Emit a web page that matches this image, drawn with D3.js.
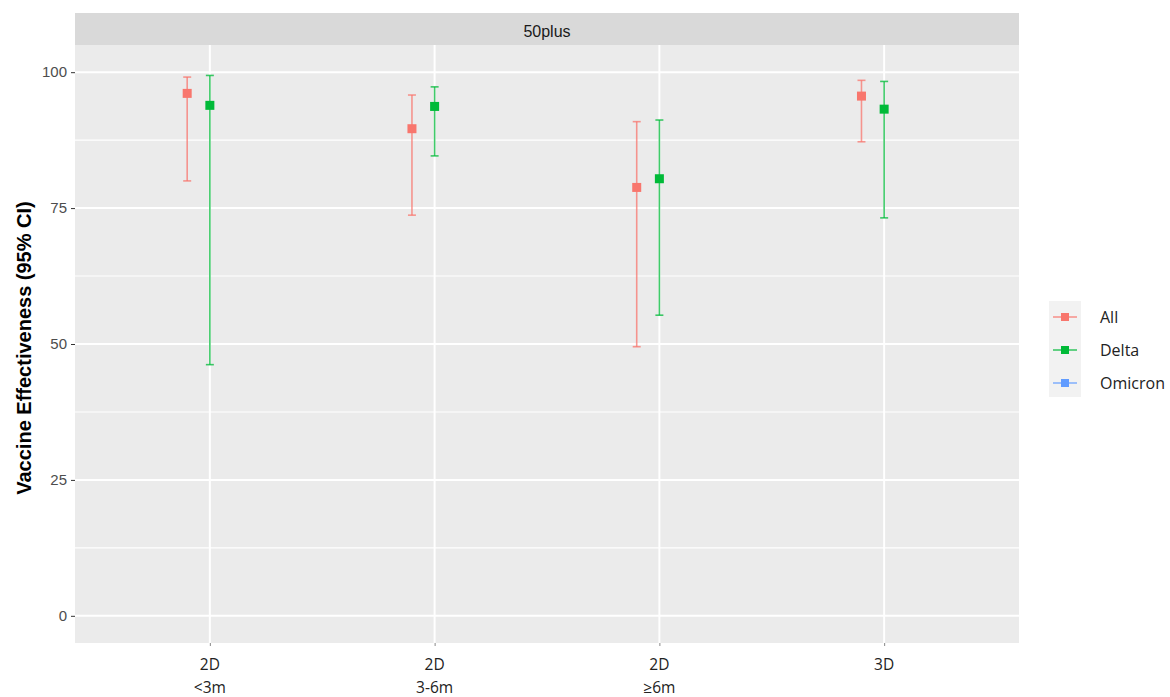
<!DOCTYPE html>
<html><head><meta charset="utf-8">
<script src="https://cdn.jsdelivr.net/npm/d3@7"></script>
<style>body{margin:0;background:#fff}svg{display:block}</style>
</head><body>
<svg id="c" width="1170" height="697"></svg>
<script>
const categories = ["2D\n<3m", "2D\n3-6m", "2D\n≥6m", "3D"];
const series = ["All", "Delta", "Omicron"];
const allEst   = [96.1, 89.6, 78.8, 95.6];
const allLow   = [80.0, 73.7, 49.5, 87.2];
const allHigh  = [99.1, 95.8, 90.9, 98.5];
const deltaEst  = [93.9, 93.7, 80.4, 93.2];
const deltaLow  = [46.2, 84.6, 55.3, 73.2];
const deltaHigh = [99.4, 97.3, 91.2, 98.3];
const yTicks = [0, 25, 50, 75, 100];
const facetLabel = "50plus";
const yTitle = "Vaccine Effectiveness (95% CI)";

const colors = {All: "#F8766D", Delta: "#00BA38", Omicron: "#619CFF"};

const rows = [];
categories.forEach((c, i) => {
  rows.push({cat: c, s: "All", est: allEst[i], lo: allLow[i], hi: allHigh[i]});
  rows.push({cat: c, s: "Delta", est: deltaEst[i], lo: deltaLow[i], hi: deltaHigh[i]});
});

const svg = d3.select("#c");
const P = {l: 75, r: 1019, t: 45, b: 643};

const x = d3.scalePoint().domain(categories).range([P.l, P.r]).padding(0.6);
const dodge = d3.scaleBand().domain(series).range([-34, 34]).padding(0);
const y = d3.scaleLinear().domain([-5, 105]).range([P.b, P.t]);

// strip
svg.append("rect").attr("x", P.l).attr("y", 13).attr("width", P.r - P.l).attr("height", P.t - 13).attr("fill", "#D9D9D9");
svg.append("text").attr("x", (P.l + P.r) / 2).attr("y", 37).attr("text-anchor", "middle")
  .attr("font-family", "Liberation Sans Narrow, Arial Narrow, Liberation Sans, sans-serif").attr("font-size", 16).attr("fill", "#1A1A1A").text(facetLabel);

// panel
svg.append("rect").attr("x", P.l).attr("y", P.t).attr("width", P.r - P.l).attr("height", P.b - P.t).attr("fill", "#EBEBEB");

const g = svg.append("g");
const minor = d3.range(0, yTicks.length - 1).map(i => (yTicks[i] + yTicks[i + 1]) / 2);
g.selectAll(".minor").data(minor).join("line")
  .attr("x1", P.l).attr("x2", P.r).attr("y1", d => y(d)).attr("y2", d => y(d))
  .attr("stroke", "#fff").attr("stroke-width", 1.1);
g.selectAll(".major").data(yTicks).join("line")
  .attr("x1", P.l).attr("x2", P.r).attr("y1", d => y(d)).attr("y2", d => y(d))
  .attr("stroke", "#fff").attr("stroke-width", 2);
g.selectAll(".vmaj").data(categories).join("line")
  .attr("x1", d => x(d)).attr("x2", d => x(d)).attr("y1", P.t).attr("y2", P.b)
  .attr("stroke", "#fff").attr("stroke-width", 2);

// y axis
const yAxis = svg.append("g").attr("transform", `translate(${P.l},0)`)
  .call(d3.axisLeft(y).tickValues(yTicks).tickSize(4).tickPadding(4));
yAxis.select(".domain").remove();
yAxis.selectAll("line").attr("stroke", "#333").attr("stroke-width", 1);
yAxis.selectAll("text").attr("font-family", "Liberation Sans, Arial, sans-serif").attr("font-size", 15).attr("fill", "#4D4D4D");

// x axis
const xAxis = svg.append("g").attr("transform", `translate(0,${P.b})`)
  .call(d3.axisBottom(x).tickSize(3).tickFormat(""));
xAxis.select(".domain").remove();
xAxis.selectAll("line").attr("stroke", "#888");
const xl = svg.append("g");
categories.forEach(c => {
  const parts = c.split("\n");
  const t = xl.append("text").attr("x", x(c)).attr("y", 670).attr("text-anchor", "middle")
    .attr("font-family", "Open Sans, Noto Sans, sans-serif").attr("font-size", 15.5).attr("fill", "#222");
  parts.forEach((p, k) => t.append("tspan").attr("x", x(c)).attr("dy", k === 0 ? 0 : 23).text(p));
});

// y title
svg.append("text").attr("transform", `translate(31,348) rotate(-90)`)
  .attr("text-anchor", "middle").attr("font-family", "Liberation Sans, Arial, sans-serif")
  .attr("font-weight", "bold").attr("font-size", 20).attr("fill", "#000").text(yTitle);

// error bars & points
const cx = d => x(d.cat) + dodge(d.s) + dodge.bandwidth() / 2;
const cap = 4;
const eb = svg.append("g").selectAll("g").data(rows).join("g")
  .attr("stroke", d => colors[d.s]).attr("stroke-opacity", 0.75).attr("stroke-width", 1.6);
eb.append("line").attr("x1", cx).attr("x2", cx).attr("y1", d => y(d.lo)).attr("y2", d => y(d.hi));
eb.append("line").attr("x1", d => cx(d) - cap).attr("x2", d => cx(d) + cap).attr("y1", d => y(d.lo)).attr("y2", d => y(d.lo));
eb.append("line").attr("x1", d => cx(d) - cap).attr("x2", d => cx(d) + cap).attr("y1", d => y(d.hi)).attr("y2", d => y(d.hi));
const sz = 9;
svg.append("g").selectAll("rect").data(rows).join("rect")
  .attr("x", d => cx(d) - sz / 2).attr("y", d => y(d.est) - sz / 2).attr("width", sz).attr("height", sz)
  .attr("fill", d => colors[d.s]);

// legend
const L = svg.append("g");
L.append("rect").attr("x", 1049).attr("y", 301).attr("width", 32).attr("height", 96).attr("fill", "#F2F2F2");
series.forEach((s, i) => {
  const yy = 317 + i * 33;
  L.append("line").attr("x1", 1053).attr("x2", 1077).attr("y1", yy).attr("y2", yy)
    .attr("stroke", colors[s]).attr("stroke-opacity", 0.75).attr("stroke-width", 1.6);
  L.append("rect").attr("x", 1065 - 4).attr("y", yy - 4).attr("width", 8).attr("height", 8).attr("fill", colors[s]);
  L.append("text").attr("x", 1100).attr("y", yy + 6).attr("font-family", "Open Sans, Noto Sans, sans-serif")
    .attr("font-size", 16).attr("fill", "#222").text(s);
});
</script>
</body></html>
